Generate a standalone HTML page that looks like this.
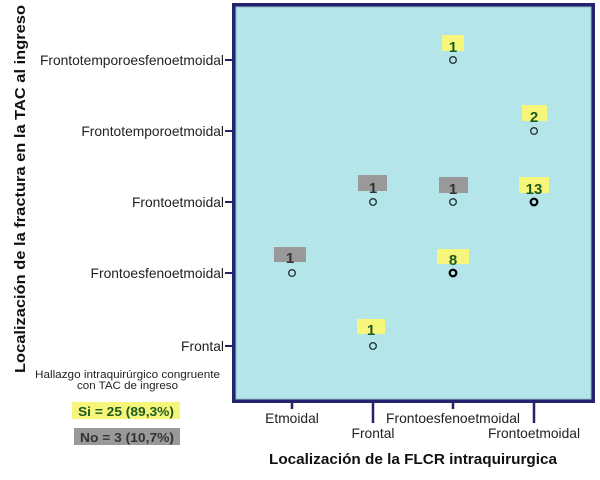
<!DOCTYPE html>
<html><head><meta charset="utf-8"><style>
html,body{margin:0;padding:0;background:#fff;}
svg{display:block;font-family:"Liberation Sans",Arial,sans-serif;}
</style></head><body>
<svg width="600" height="480" viewBox="0 0 600 480" xmlns="http://www.w3.org/2000/svg">
<rect x="0" y="0" width="600" height="480" fill="#ffffff"/>
<!-- plot frame -->
<rect x="233.75" y="4.75" width="359.5" height="396.5" fill="#b4e5e8" stroke="#23236e" stroke-width="3.5"/>
<rect x="236" y="7" width="355" height="392" fill="none" stroke="#8fb4c4" stroke-width="0.8"/>
<!-- y ticks -->
<g stroke="#23236e" stroke-width="2">
<line x1="225" y1="60" x2="233" y2="60"/>
<line x1="225" y1="131" x2="233" y2="131"/>
<line x1="225" y1="202" x2="233" y2="202"/>
<line x1="225" y1="273" x2="233" y2="273"/>
<line x1="225" y1="346" x2="233" y2="346"/>
</g>
<!-- x ticks -->
<g stroke="#23236e" stroke-width="2.5">
<line x1="292" y1="402" x2="292" y2="409"/>
<line x1="373" y1="402" x2="373" y2="423"/>
<line x1="453" y1="402" x2="453" y2="409"/>
<line x1="534" y1="402" x2="534" y2="423"/>
</g>
<!-- y labels -->
<g font-size="13.8" fill="#222" text-anchor="end">
<text x="224" y="65">Frontotemporoesfenoetmoidal</text>
<text x="224" y="136">Frontotemporoetmoidal</text>
<text x="224" y="207">Frontoetmoidal</text>
<text x="224" y="278">Frontoesfenoetmoidal</text>
<text x="224" y="351">Frontal</text>
</g>
<!-- x labels -->
<g font-size="13.8" fill="#222" text-anchor="middle">
<text x="292" y="423">Etmoidal</text>
<text x="373" y="438">Frontal</text>
<text x="453" y="423" textLength="134" lengthAdjust="spacingAndGlyphs">Frontoesfenoetmoidal</text>
<text x="534" y="438">Frontoetmoidal</text>
</g>
<!-- axis titles -->
<text x="413" y="464" font-size="15" font-weight="bold" fill="#111" text-anchor="middle" textLength="288" lengthAdjust="spacingAndGlyphs">Localización de la FLCR intraquirurgica</text>
<text transform="translate(25,189) rotate(-90)" x="0" y="0" font-size="14.5" font-weight="bold" fill="#111" text-anchor="middle" textLength="368" lengthAdjust="spacingAndGlyphs">Localización de la fractura en la TAC al ingreso</text>
<!-- data label boxes -->
<g>
<rect x="442" y="35" width="22" height="16" fill="#f6f67a"/>
<rect x="522" y="105" width="25" height="16" fill="#f6f67a"/>
<rect x="358" y="175" width="29" height="16" fill="#999999"/>
<rect x="439" y="177" width="29" height="16" fill="#999999"/>
<rect x="519" y="177" width="30" height="16" fill="#f6f67a"/>
<rect x="274" y="247" width="32" height="15" fill="#999999"/>
<rect x="437" y="249" width="32" height="15" fill="#f6f67a"/>
<rect x="357" y="319" width="28" height="15" fill="#f6f67a"/>
</g>
<g font-size="15" font-weight="bold" text-anchor="middle">
<text x="453" y="52" fill="#1e5a1e">1</text>
<text x="534" y="122" fill="#1e5a1e">2</text>
<text x="373" y="193" fill="#333">1</text>
<text x="453" y="194" fill="#333">1</text>
<text x="534" y="194" fill="#1e5a1e">13</text>
<text x="290" y="263" fill="#333">1</text>
<text x="453" y="265" fill="#1e5a1e">8</text>
<text x="371" y="335" fill="#1e5a1e">1</text>
</g>
<!-- points -->
<g fill="none" stroke="#2a3a3a" stroke-width="1.4">
<circle cx="453" cy="60" r="3.3"/>
<circle cx="534" cy="131" r="3.3"/>
<circle cx="373" cy="202" r="3.3"/>
<circle cx="453" cy="202" r="3.3"/>
<circle cx="292" cy="273" r="3.3"/>
<circle cx="373" cy="346" r="3.3"/>
</g>
<g fill="none" stroke="#000" stroke-width="2.2">
<circle cx="534" cy="202" r="3.3"/>
<circle cx="453" cy="273" r="3.3"/>
</g>
<!-- legend -->
<g font-size="11" fill="#222" text-anchor="middle">
<text x="127.5" y="378" textLength="185" lengthAdjust="spacingAndGlyphs">Hallazgo intraquirúrgico congruente</text>
<text x="127.5" y="389" textLength="101" lengthAdjust="spacingAndGlyphs">con TAC de ingreso</text>
</g>
<rect x="72" y="402" width="108" height="17" fill="#f6f67a"/>
<rect x="74" y="428" width="106" height="17" fill="#999999"/>
<text x="126" y="416" font-size="13" font-weight="bold" fill="#1e5a1e" text-anchor="middle" textLength="96" lengthAdjust="spacingAndGlyphs">Si = 25 (89,3%)</text>
<text x="127" y="442" font-size="13" font-weight="bold" fill="#333" text-anchor="middle" textLength="94" lengthAdjust="spacingAndGlyphs">No = 3 (10,7%)</text>
</svg>
</body></html>
